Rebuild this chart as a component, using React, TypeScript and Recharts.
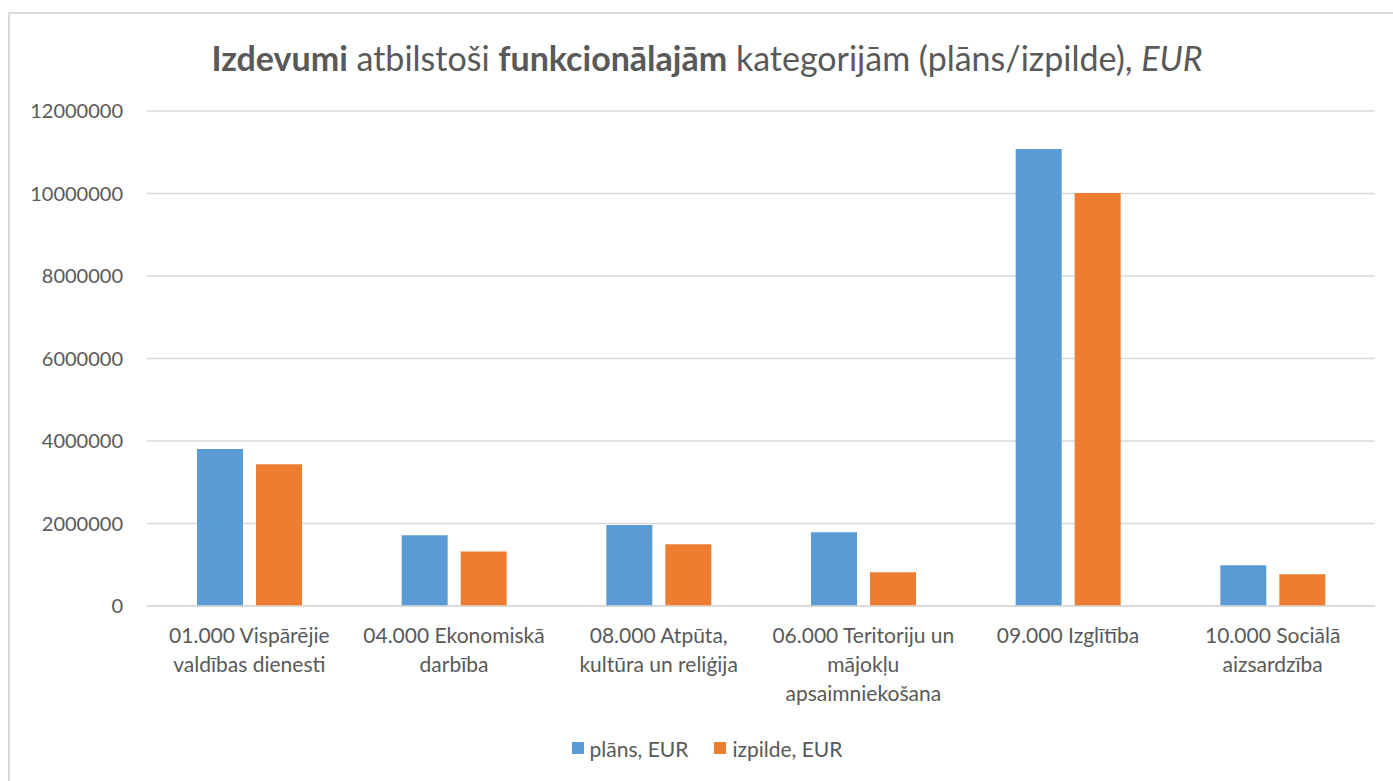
import React from 'react';
import { BarChart, Bar, XAxis, YAxis, CartesianGrid } from 'recharts';

const categories = [
  '01.000 Vispārējie\nvaldības dienesti',
  '04.000 Ekonomiskā\ndarbība',
  '08.000 Atpūta,\nkultūra un reliģija',
  '06.000 Teritoriju un\nmājokļu\napsaimniekošana',
  '09.000 Izglītība',
  '10.000 Sociālā\naizsardzība',
];
const plans = [3806000, 1715000, 1965000, 1790000, 11080000, 990000];
const izpilde = [3435000, 1320000, 1495000, 820000, 10010000, 770000];
const yTicks = [0, 2000000, 4000000, 6000000, 8000000, 10000000, 12000000];

const BLUE = '#5B9BD5';
const ORANGE = '#ED7D31';
const TEXT = '#595959';
const GRID = '#D9D9D9';
const FONT = 'Lato, "Open Sans", sans-serif';

const data = categories.map((name, i) => ({ name, plans: plans[i], izpilde: izpilde[i] }));

// multi-line category labels, split on \n
const CategoryTick = (props: any) => {
  const { x, y, payload } = props;
  const lines = String(payload.value).split('\n');
  return (
    <text x={x} y={y} textAnchor="middle" fill={TEXT} fontSize={21} fontFamily={FONT}>
      {lines.map((line, i) => (
        <tspan key={i} x={x} dy={29}>
          {line}
        </tspan>
      ))}
    </text>
  );
};

const LegendItem = ({ color, label }: { color: string; label: string }) => (
  <span style={{ display: 'inline-flex', alignItems: 'center', margin: '0 13px' }}>
    <span style={{ width: 12, height: 12, background: color, marginRight: 6, display: 'inline-block' }} />
    {label}
  </span>
);

export default function App() {
  return (
    <div
      style={{
        position: 'absolute',
        left: 0,
        top: 0,
        width: 1393,
        height: 781,
        overflow: 'hidden',
        background: '#fff',
        fontFamily: FONT,
        color: TEXT,
      }}
    >
      <div
        style={{
          position: 'absolute',
          left: 8,
          top: 12,
          width: 1420,
          height: 820,
          border: `2px solid ${GRID}`,
        }}
      />
      <div
        style={{
          position: 'absolute',
          left: 9,
          top: 37,
          width: 1396,
          textAlign: 'center',
          fontSize: 34,
          whiteSpace: 'nowrap',
        }}
      >
        <b>Izdevumi</b> atbilstoši <b>funkcionālajām</b> kategorijām (plāns/izpilde), <i>EUR</i>
      </div>
      <div style={{ position: 'absolute', left: 0, top: 0 }}>
        <BarChart
          width={1393}
          height={781}
          data={data}
          margin={{ top: 111, right: 18, left: 0, bottom: 0 }}
          barSize={46}
          barGap={13}
        >
          <CartesianGrid vertical={false} stroke={GRID} strokeWidth={1.5} />
          <XAxis
            dataKey="name"
            height={175}
            interval={0}
            tickLine={false}
            axisLine={{ stroke: GRID, strokeWidth: 1.5 }}
            tick={<CategoryTick />}
          />
          <YAxis
            width={147}
            domain={[0, 12000000]}
            ticks={yTicks}
            axisLine={false}
            tickLine={false}
            tickMargin={18}
            tick={{ fill: TEXT, fontSize: 20, fontFamily: FONT }}
            tickFormatter={(v: number) => String(v)}
          />
          <Bar dataKey="plans" name="plāns, EUR" fill={BLUE} isAnimationActive={false} />
          <Bar dataKey="izpilde" name="izpilde, EUR" fill={ORANGE} isAnimationActive={false} />
        </BarChart>
      </div>
      <div
        style={{
          position: 'absolute',
          left: 9,
          top: 733,
          width: 1396,
          textAlign: 'center',
          fontSize: 21,
        }}
      >
        <LegendItem color={BLUE} label="plāns, EUR" />
        <LegendItem color={ORANGE} label="izpilde, EUR" />
      </div>
    </div>
  );
}
